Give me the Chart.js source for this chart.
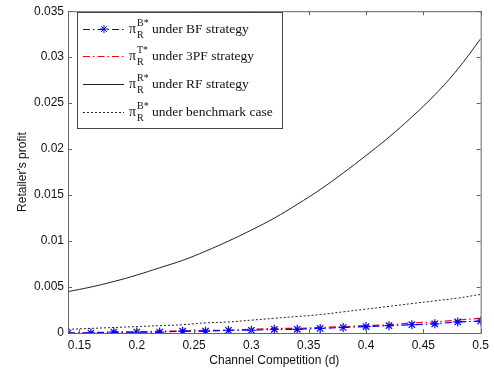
<!DOCTYPE html>
<html>
<head>
<meta charset="utf-8">
<script src="https://cdn.jsdelivr.net/npm/chart.js@4"></script>
<style>
  html, body { margin: 0; padding: 0; background: #fff; }
  #wrap { width: 494px; height: 373px; }
</style>
</head>
<body>
<div id="wrap"><canvas id="profit"></canvas></div>
<script>
// Valores
const dValues = [0.14, 0.16, 0.18, 0.2, 0.22, 0.24, 0.26, 0.28, 0.3, 0.32, 0.34, 0.36, 0.38, 0.4, 0.42, 0.44, 0.46, 0.48, 0.5];
const bfProfit = [0.0000, 0.0000, 0.0001, 0.0001, 0.0001, 0.0002, 0.0002, 0.0003, 0.0003, 0.0004, 0.0004, 0.0005, 0.0006, 0.0007, 0.0008, 0.0009, 0.0010, 0.0012, 0.0013];
const tpfProfit = [0.0000, 0.00005, 0.0001, 0.0001, 0.0002, 0.0002, 0.0003, 0.0003, 0.0004, 0.0005, 0.0005, 0.0006, 0.0007, 0.0008, 0.0009, 0.0011, 0.0012, 0.0014, 0.0016];
const rfProfit = [0.0045, 0.0050, 0.0056, 0.0063, 0.0071, 0.0079, 0.0089, 0.0100, 0.0112, 0.0125, 0.0140, 0.0156, 0.0174, 0.0193, 0.0213, 0.0235, 0.0259, 0.0287, 0.0320];
const benchProfit = [0.0004, 0.0005, 0.0006, 0.0007, 0.0008, 0.0009, 0.0011, 0.0012, 0.0014, 0.0016, 0.0018, 0.0020, 0.0023, 0.0026, 0.0029, 0.0032, 0.0035, 0.0038, 0.0042];

const xTicks = [0.15, 0.2, 0.25, 0.3, 0.35, 0.4, 0.45, 0.5];
const yTicks = [0, 0.005, 0.01, 0.015, 0.02, 0.025, 0.03, 0.035];

const legendSup = ["B*", "T*", "R*", "B*"];
const legendText = ["under BF strategy", "under 3PF strategy", "under RF strategy", "under benchmark case"];

const pts = (arr) => dValues.map((d, i) => ({ x: d, y: arr[i] }));

const datasets = [
  {
    label: "BF",
    data: pts(bfProfit),
    borderColor: "#0000ff",
    borderWidth: 1.2,
    borderDash: [7, 3, 1.5, 3],
    pointStyle: "star",
    pointRadius: 4.5,
    pointBorderColor: "#0000ff",
    pointBorderWidth: 1.2,
    tension: 0,
  },
  {
    label: "3PF",
    data: pts(tpfProfit),
    borderColor: "#ff0000",
    borderWidth: 1.2,
    borderDash: [7, 3, 1.5, 3],
    pointRadius: 0,
    tension: 0,
  },
  {
    label: "RF",
    data: pts(rfProfit),
    borderColor: "#222",
    borderWidth: 1,
    pointRadius: 0,
    tension: 0.4,
  },
  {
    label: "Benchmark",
    data: pts(benchProfit),
    borderColor: "#222",
    borderWidth: 1,
    borderDash: [2, 2],
    pointRadius: 0,
    tension: 0.4,
  },
];

const lineStyles = datasets.map((ds) => ({
  color: ds.borderColor,
  dash: ds.borderDash || [],
  star: ds.pointStyle === "star",
}));

// moldura, ticks internos e legenda estilo MATLAB
const moldura = {
  id: "moldura",
  afterDraw(chart) {
    const c = chart.ctx;
    const a = chart.chartArea;
    const xs = chart.scales.x;
    const ys = chart.scales.y;
    c.save();
    c.strokeStyle = "#666";
    c.lineWidth = 1;
    c.setLineDash([]);
    c.strokeRect(a.left + 0.5, a.top + 0.5, a.right - a.left, a.bottom - a.top);
    c.beginPath();
    xTicks.forEach((v) => {
      const px = Math.round(xs.getPixelForValue(v)) + 0.5;
      c.moveTo(px, a.bottom); c.lineTo(px, a.bottom - 4);
      c.moveTo(px, a.top); c.lineTo(px, a.top + 4);
    });
    yTicks.forEach((v) => {
      const py = Math.round(ys.getPixelForValue(v)) + 0.5;
      c.moveTo(a.left, py); c.lineTo(a.left + 4, py);
      c.moveTo(a.right, py); c.lineTo(a.right - 4, py);
    });
    c.stroke();

    // legenda
    const bx = 77, by = 12, bw = 205, bh = 116;
    c.fillStyle = "#fff";
    c.fillRect(bx, by, bw, bh);
    c.strokeStyle = "#444";
    c.strokeRect(bx + 0.5, by + 0.5, bw, bh);
    const rowsY = [29, 56, 84, 112];
    rowsY.forEach((ry, i) => {
      const st = lineStyles[i];
      c.strokeStyle = st.color;
      c.lineWidth = 1;
      c.setLineDash(st.dash);
      c.beginPath();
      c.moveTo(83, ry + 0.5);
      c.lineTo(124, ry + 0.5);
      c.stroke();
      c.setLineDash([]);
      if (st.star) {
        const cx = 104, r = 4;
        c.beginPath();
        for (let k = 0; k < 4; k++) {
          const ang = (k * Math.PI) / 4;
          c.moveTo(cx - r * Math.cos(ang), ry - r * Math.sin(ang));
          c.lineTo(cx + r * Math.cos(ang), ry + r * Math.sin(ang));
        }
        c.stroke();
      }
      c.fillStyle = "#111";
      c.textBaseline = "alphabetic";
      c.font = "14px 'Liberation Serif', serif";
      c.fillText("\u03c0", 129, ry + 4);
      c.font = "10px 'Liberation Serif', serif";
      c.fillText(legendSup[i], 137, ry - 3);
      c.fillText("R", 137, ry + 9);
      c.font = "13.5px 'Liberation Serif', serif";
      c.fillText(legendText[i], 152, ry + 4);
    });
    c.restore();
  },
};

const ctx = document.getElementById("profit").getContext("2d");

new Chart(ctx, {
  type: "line",
  data: { datasets: datasets },
  options: {
    responsive: true,
    maintainAspectRatio: false,
    animation: false,
    layout: { padding: { top: 7, right: 10, left: 0, bottom: 0 } },
    plugins: {
      legend: { display: false },
      tooltip: { enabled: false },
    },
    scales: {
      x: {
        type: "linear",
        min: 0.14,
        max: 0.5,
        afterBuildTicks: (s) => { s.ticks = xTicks.map((v) => ({ value: v })); },
        afterFit: (s) => { s.height = 40; },
        ticks: {
          autoSkip: false,
          maxRotation: 0,
          padding: 5,
          color: "#111",
          font: { family: "'Liberation Sans', Arial", size: 12 },
          callback: (v) => String(v),
        },
        grid: { display: false, drawTicks: false },
        border: { display: false },
        title: {
          display: true,
          text: "Channel Competition (d)",
          color: "#111",
          font: { family: "'Liberation Sans', Arial", size: 12 },
          padding: { top: 2, bottom: 5 },
        },
      },
      y: {
        min: 0,
        max: 0.035,
        afterBuildTicks: (s) => { s.ticks = yTicks.map((v) => ({ value: v })); },
        afterFit: (s) => { s.width = 68; },
        ticks: {
          autoSkip: false,
          padding: 4,
          color: "#111",
          font: { family: "'Liberation Sans', Arial", size: 12 },
          callback: (v) => String(Number(v.toFixed(3))),
        },
        grid: { display: false, drawTicks: false },
        border: { display: false },
        title: {
          display: true,
          text: "Retailer's profit",
          color: "#111",
          font: { family: "'Liberation Sans', Arial", size: 12 },
          padding: { top: 15, bottom: 0 },
        },
      },
    },
  },
  plugins: [moldura],
});
</script>
</body>
</html>
